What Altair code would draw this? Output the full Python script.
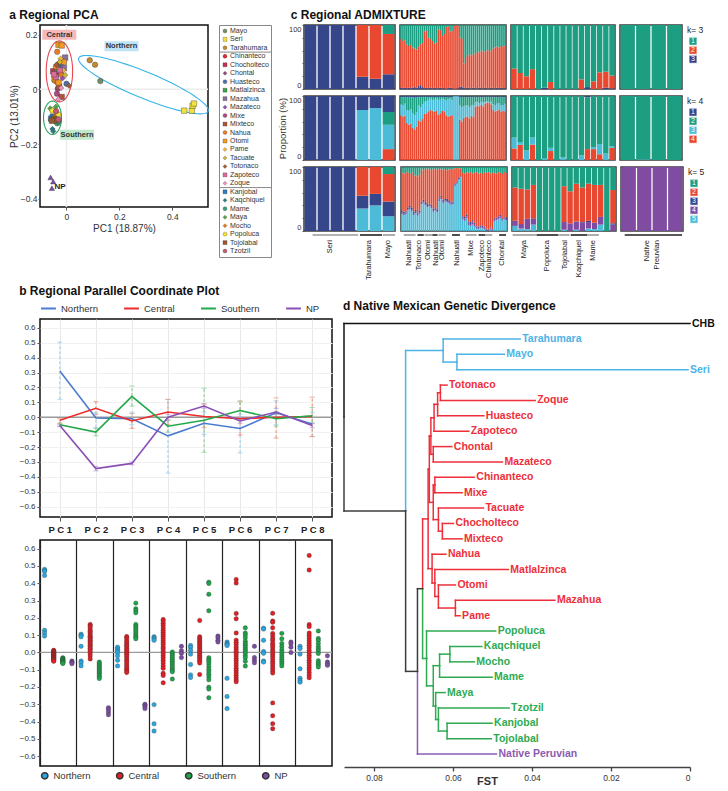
import math
import altair as alt
import pandas as pd

FONT = "Liberation Sans"

# ====================== Panel a : Regional PCA ======================
pop_names = ["Mayo", "Seri", "Tarahumara",
             "Chinanteco", "Chocholteco", "Chontal", "Huasteco", "Matlalzinca", "Mazahua", "Mazateco",
             "Mixe", "Mixteco", "Nahua", "Otomi", "Pame", "Tacuate", "Totonaco", "Zapoteco", "Zoque",
             "Kanjobal", "Kaqchiquel", "Mame", "Maya", "Mocho", "Popoluca", "Tojolabal", "Tzotzil",
             "Native Peruvian"]
pop_colors = ["#6f8f6a", "#f3e33c", "#c48a2c",
              "#e0262b", "#c2304d", "#8c4a78", "#4f6fa8", "#3fa34d", "#8a70a0", "#9a4fb2",
              "#b04884", "#b4523a", "#ee7d22", "#f39a1f", "#f6b92f", "#d2b634", "#a55a2f", "#e0699b", "#f092c0",
              "#2f7fb9", "#2a8084", "#3a9e76", "#52a844", "#e8781f", "#f6e52f", "#9a5a2b", "#c45a6c",
              "#7b4ca8"]
pop_shapes = ["circle", "square", "circle",
              "circle", "square", "diamond", "circle", "square", "square", "diamond",
              "circle", "square", "circle", "square", "diamond", "diamond", "diamond", "square", "diamond",
              "square", "diamond", "circle", "diamond", "diamond", "circle", "square", "circle",
              "triangle-up"]
pc1_vals = {
    "Mayo": [0.128], "Seri": [0.445, 0.474, 0.477, 0.482], "Tarahumara": [0.088, 0.108],
    "Chinanteco": [-0.045, -0.038], "Chocholteco": [-0.050, -0.042], "Chontal": [-0.030],
    "Huasteco": [0.000, -0.020], "Matlalzinca": [-0.035], "Mazahua": [-0.010, -0.005],
    "Mazateco": [-0.015, -0.025], "Mixe": [-0.036, -0.033, -0.040], "Mixteco": [-0.018, -0.028],
    "Nahua": [-0.035, -0.045, -0.040, -0.020], "Otomi": [-0.030, -0.018, -0.010, -0.045, -0.030],
    "Pame": [-0.012, -0.022], "Tacuate": [-0.025, -0.005], "Totonaco": [0.010, -0.038],
    "Zapoteco": [-0.040, -0.025, -0.047], "Zoque": [-0.030, -0.020],
    "Kanjobal": [-0.058, -0.052], "Kaqchiquel": [-0.053, -0.050], "Mame": [-0.035, -0.030],
    "Maya": [-0.061, -0.040, -0.058], "Mocho": [-0.043], "Popoluca": [-0.053, -0.031],
    "Tojolabal": [-0.047, -0.040, -0.055], "Tzotzil": [-0.039, -0.030],
    "Native Peruvian": [-0.060, -0.050, -0.055],
}
pc2_vals = {
    "Mayo": [0.030], "Seri": [-0.078, -0.078, -0.060, -0.052], "Tarahumara": [0.106, 0.090],
    "Chinanteco": [0.060, 0.052], "Chocholteco": [0.066, 0.046], "Chontal": [0.095],
    "Huasteco": [0.020, 0.086], "Matlalzinca": [0.076], "Mazahua": [0.078, 0.116],
    "Mazateco": [0.040, 0.062], "Mixe": [-0.016, 0.002, 0.030], "Mixteco": [-0.028, 0.010],
    "Nahua": [0.137, 0.032, 0.082, 0.055], "Otomi": [0.163, 0.160, 0.100, 0.040, 0.025],
    "Pame": [0.070, 0.112], "Tacuate": [0.100, 0.052], "Totonaco": [0.013, 0.090],
    "Zapoteco": [0.045, 0.070, 0.055], "Zoque": [-0.036, 0.005],
    "Kanjobal": [-0.107, -0.100], "Kaqchiquel": [-0.145, -0.153], "Mame": [-0.124, -0.118],
    "Maya": [-0.070, -0.064, -0.112], "Mocho": [-0.098], "Popoluca": [-0.078, -0.092],
    "Tojolabal": [-0.107, -0.113, -0.115], "Tzotzil": [-0.080, -0.110],
    "Native Peruvian": [-0.322, -0.337, -0.361],
}
ell_names = ["Central", "Southern", "Northern"]
ell_cx = [-0.0266, -0.0527, 0.291]
ell_cy = [0.0655, -0.104, 0.017]
ell_ux = [0.050, 0.034, 0.2447]
ell_uy = [0.0, 0.0, -0.097]
ell_vx = [0.0, 0.0, 0.0181]
ell_vy = [0.1115, 0.061, 0.0445]
ell_colors = ["#e8464e", "#2ca35a", "#35b5e8"]
tag_text = ["Central", "Northern", "Southern"]
tag_x = [-0.027, 0.208, 0.040]
tag_y = [0.199, 0.157, -0.166]
tag_fill = ["#f6b8bb", "#bfe4f6", "#bfe8cd"]

# ====================== Panel b : parallel coordinates ======================
pcs = ["PC1", "PC2", "PC3", "PC4", "PC5", "PC6", "PC7", "PC8"]
groups = ["Northern", "Central", "Southern", "NP"]
pcp_mean = {
    "Northern": [0.31, -0.005, -0.01, -0.125, -0.04, -0.075, 0.03, -0.045],
    "Central": [-0.02, 0.06, -0.025, 0.035, 0.005, -0.01, 0.0, 0.005],
    "Southern": [-0.05, -0.10, 0.14, -0.06, -0.02, 0.045, -0.01, 0.01],
    "NP": [-0.055, -0.345, -0.31, 0.0, 0.075, -0.025, 0.035, -0.055],
}
pcp_lo = {
    "Northern": [0.12, -0.07, -0.05, -0.375, -0.115, -0.24, -0.05, -0.13],
    "Central": [-0.04, 0.02, -0.075, -0.05, -0.07, -0.12, -0.14, -0.13],
    "Southern": [-0.06, -0.125, 0.075, -0.10, -0.235, -0.02, -0.06, -0.04],
    "NP": [-0.062, -0.36, -0.32, -0.02, 0.06, -0.04, 0.02, -0.07],
}
pcp_hi = {
    "Northern": [0.505, 0.03, 0.035, 0.12, 0.035, 0.02, 0.11, 0.03],
    "Central": [-0.01, 0.105, 0.025, 0.12, 0.09, 0.11, 0.13, 0.135],
    "Southern": [-0.04, -0.075, 0.21, -0.02, 0.195, 0.105, 0.04, 0.065],
    "NP": [-0.05, -0.33, -0.30, 0.02, 0.09, 0.0, 0.06, -0.04],
}
line_colors = ["#4a7bd0", "#ee2a2a", "#22a84a", "#8a4fb5"]
err_colors = ["#8fd0f0", "#f28a70", "#7cc98e", "#b08fd0"]
strip_colors = ["#2aa7e0", "#e31e24", "#1ea34a", "#7b4ea0"]
pcp_yticks = [-0.6, -0.5, -0.4, -0.3, -0.2, -0.1, 0.0, 0.1, 0.2, 0.3, 0.4, 0.5, 0.6]

strip_vals = {
    "Northern": [
        [0.48, 0.475, 0.468, 0.445, 0.128, 0.112, 0.095],
        [0.105, 0.098, 0.09, 0.035, -0.05, -0.06, -0.078],
        [0.03, 0.02, 0.01, 0.0, -0.02, -0.045, -0.078],
        [0.09, 0.085, 0.078, 0.07, -0.302, -0.413, -0.455],
        [0.04, 0.03, 0.012, -0.01, -0.07, -0.13, -0.145],
        [0.06, 0.052, 0.045, 0.04, -0.15, -0.255, -0.325],
        [0.14, 0.135, 0.07, 0.005, -0.005, -0.05, -0.056],
        [0.035, 0.022, -0.01, -0.095, -0.15, -0.163, -0.172],
    ],
    "Central": [
        [0.012, 0.009, 0.005, 0.002, -0.002, -0.005, -0.008, -0.011, -0.013, -0.016, -0.019, -0.021,
         -0.024, -0.027, -0.029, -0.032, -0.035, -0.037, -0.041, -0.044, -0.048, -0.051],
        [0.162, 0.155, 0.146, 0.131, 0.122, 0.114, 0.103, 0.094, 0.088, 0.079, 0.071, 0.066, 0.058,
         0.049, 0.041, 0.033, 0.024, 0.016, 0.006, -0.008, -0.021, -0.038],
        [0.092, 0.085, 0.072, 0.061, 0.052, 0.041, 0.033, 0.022, 0.014, 0.005, -0.006, -0.014, -0.023,
         -0.035, -0.046, -0.055, -0.067, -0.078, -0.089, -0.098, -0.108, -0.116],
        [0.19, 0.182, 0.168, 0.155, 0.141, 0.128, 0.116, 0.103, 0.094, 0.081, 0.069, 0.057, 0.045,
         0.031, 0.022, 0.008, -0.004, -0.018, -0.031, -0.046, -0.062, -0.078, -0.092, -0.121, -0.133, -0.176],
        [0.185, 0.09, 0.082, 0.071, 0.063, 0.054, 0.046, 0.037, 0.028, 0.019, 0.011, 0.002, -0.007,
         -0.016, -0.025, -0.033, -0.042, -0.051, -0.061, -0.128],
        [0.422, 0.401, 0.225, 0.195, 0.112, 0.071, 0.058, 0.046, 0.031, 0.019, 0.006, -0.008, -0.021,
         -0.035, -0.047, -0.062, -0.076, -0.091, -0.104, -0.118, -0.132, -0.147, -0.159, -0.17],
        [0.226, 0.181, 0.174, 0.142, 0.11, 0.096, 0.081, 0.069, 0.053, 0.041, 0.028, 0.014, 0.003,
         -0.011, -0.024, -0.038, -0.052, -0.064, -0.079, -0.093, -0.107, -0.119, -0.292, -0.366, -0.412, -0.441],
        [0.561, 0.476, 0.161, 0.149, 0.112, 0.097, 0.083, 0.068, 0.054, 0.041, 0.027, 0.012, -0.002,
         -0.016, -0.03, -0.045, -0.058, -0.073, -0.087, -0.101, -0.116, -0.131, -0.146],
    ],
    "Southern": [
        [-0.031, -0.035, -0.038, -0.041, -0.044, -0.047, -0.05, -0.052, -0.055, -0.058, -0.061, -0.064],
        [-0.056, -0.065, -0.073, -0.081, -0.09, -0.098, -0.107, -0.115, -0.124, -0.133, -0.142, -0.151],
        [0.285, 0.252, 0.241, 0.229, 0.162, 0.151, 0.14, 0.129, 0.118, 0.106, 0.096, 0.087, 0.079],
        [0.002, -0.008, -0.018, -0.029, -0.04, -0.051, -0.062, -0.072, -0.083, -0.094, -0.104, -0.112, -0.154],
        [0.406, 0.399, 0.336, 0.241, -0.031, -0.042, -0.052, -0.066, -0.081, -0.098, -0.112, -0.126,
         -0.141, -0.158, -0.201, -0.212, -0.262],
        [0.142, 0.112, 0.1, 0.084, 0.065, 0.052, 0.041, 0.029, 0.018, 0.008, -0.004, -0.018, -0.031, -0.051, -0.079],
        [0.11, 0.079, 0.052, 0.034, 0.016, 0.001, -0.013, -0.027, -0.039, -0.052, -0.064, -0.078],
        [0.124, 0.081, 0.069, 0.052, 0.034, 0.021, 0.009, -0.006, -0.048, -0.061, -0.072, -0.084],
    ],
    "NP": [
        [-0.05, -0.055, -0.06, -0.065],
        [-0.32, -0.33, -0.345, -0.36],
        [-0.3, -0.305, -0.315, -0.325],
        [0.035, 0.01, -0.005, -0.03],
        [0.095, 0.085, 0.07, 0.06],
        [0.035, -0.03, -0.045, -0.06],
        [0.06, 0.05, 0.03, 0.0],
        [-0.02, -0.055, -0.065, -0.075],
    ],
}

# ====================== Panel c : ADMIXTURE ======================
regions = ["Northern", "Central", "Southern", "NP"]
region_n = {"Northern": 7, "Central": 54, "Southern": 17, "NP": 4}
region_w = {"Northern": 91, "Central": 106, "Southern": 104, "NP": 62}
region_gap = {"Northern": 0.05, "Central": 0.08, "Southern": 0.06, "NP": 0.04}
kcols = {
    3: {1: "#1b9e82", 2: "#e8482f", 3: "#36468a"},
    4: {1: "#36468a", 2: "#1b9e82", 3: "#4bbbd8", 4: "#e8482f"},
    5: {1: "#1b9e82", 2: "#e8482f", 3: "#36468a", 4: "#7f4ca2", 5: "#4bbbd8"},
}
# each entry: (given components {comp: percents}, component that takes the remainder)
adm_northern = {
    3: ({3: [100, 100, 100, 100, 19, 16, 23], 2: [0, 0, 0, 0, 81, 84, 63]}, 1),
    4: ({4: [0, 0, 0, 0, 0, 0, 17], 3: [0, 0, 0, 0, 78, 81, 38], 2: [0, 0, 0, 0, 0, 0, 20]}, 1),
    5: ({5: [0, 0, 0, 0, 35, 40, 23], 3: [100, 100, 100, 100, 20, 18, 23], 2: [0, 0, 0, 0, 45, 42, 43]}, 1),
}
c3_navy = [2, 1, 2, 1, 2, 1, 2, 3, 2, 5, 6, 3, 1, 2, 1, 2, 1, 2, 1, 1, 2, 1, 1, 0, 1, 2, 1, 0, 0, 1,
           3, 4, 2, 1, 2, 1, 1, 2, 1, 1, 2, 1, 1, 2, 1, 1, 2, 1, 1, 2, 1, 2, 1, 1]
c3_green = [22, 25, 24, 30, 33, 31, 35, 37, 38, 34, 30, 28, 10, 9, 20, 22, 25, 29, 27, 7, 8, 17, 14, 3, 2,
            10, 9, 1, 0, 1, 20, 22, 60, 50, 47, 46, 48, 45, 44, 42, 43, 40, 41, 42, 40, 39, 41, 37, 35, 34,
            35, 33, 34, 32]
c4_red = [70, 68, 69, 58, 55, 57, 50, 48, 52, 62, 60, 64, 72, 73, 76, 78, 77, 75, 77, 71, 73, 77, 76, 70,
          68, 69, 70, 0, 0, 0, 63, 60, 66, 68, 67, 65, 69, 67, 83, 85, 84, 86, 83, 88, 90, 89, 87, 78, 76,
          77, 79, 75, 77, 76]
c4_green = [12, 13, 11, 20, 22, 19, 25, 27, 23, 14, 16, 12, 8, 7, 4, 3, 5, 4, 3, 5, 4, 3, 4, 5, 4, 3, 4,
            0, 0, 0, 14, 16, 15, 13, 14, 16, 12, 14, 9, 8, 10, 7, 9, 8, 7, 9, 8, 12, 13, 11, 10, 14, 12, 11]
c4_navy = [1, 2, 1, 2, 1, 2, 2, 3, 2, 1, 2, 1, 1, 1, 2, 1, 1, 2, 1, 1, 2, 1, 1, 2, 1, 1, 2, 0, 0, 0,
           1, 1, 1, 2, 1, 1, 2, 1, 1, 1, 1, 2, 1, 1, 1, 1, 1, 1, 2, 1, 1, 1, 2, 1]
c5_cyan = [27, 25, 26, 32, 34, 31, 25, 28, 24, 27, 42, 44, 40, 37, 39, 36, 30, 32, 29, 47, 50, 44, 46, 45,
           43, 41, 42, 70, 74, 80, 84, 18, 16, 20, 9, 8, 10, 7, 4, 3, 5, 4, 3, 1, 0, 2, 1, 15, 17, 18, 20,
           16, 18, 17]
c5_purple = [3, 2, 3, 2, 3, 2, 3, 2, 3, 2, 2, 3, 2, 2, 2, 3, 2, 3, 2, 2, 2, 3, 2, 2, 2, 3, 2, 1, 1, 1, 1,
             3, 4, 3, 4, 3, 5, 4, 3, 2, 3, 2, 3, 2, 1, 2, 1, 3, 2, 4, 3, 2, 3, 2]
c5_navy = [2, 3, 2, 3, 2, 3, 2, 3, 2, 3, 2, 2, 3, 3, 2, 2, 3, 2, 3, 2, 3, 2, 2, 3, 3, 2, 2, 2, 1, 2, 1,
           2, 2, 3, 2, 3, 2, 2, 1, 2, 1, 2, 1, 1, 1, 1, 1, 2, 2, 1, 2, 2, 1, 2]
c5_green = [9, 10, 8, 9, 11, 8, 14, 13, 15, 12, 4, 5, 3, 4, 3, 5, 4, 3, 4, 3, 4, 4, 3, 5, 4, 3, 4, 2, 1,
            2, 2, 9, 10, 8, 9, 8, 10, 9, 8, 10, 9, 11, 8, 9, 8, 10, 9, 9, 10, 8, 9, 11, 8, 9]
adm_central = {
    3: ({3: c3_navy, 1: c3_green}, 2),
    4: ({4: c4_red, 2: c4_green, 1: c4_navy}, 3),
    5: ({5: c5_cyan, 4: c5_purple, 3: c5_navy, 1: c5_green}, 2),
}
adm_southern = {
    3: ({2: [32, 25, 20, 31, 0, 0, 11, 0, 0, 0, 0, 15, 0, 12, 26, 25, 20],
         3: [0, 0, 0, 0, 0, 2, 0, 0, 0, 0, 0, 0, 3, 0, 0, 2, 1]}, 1),
    4: ({4: [18, 24, 0, 24, 0, 0, 14, 0, 0, 0, 0, 0, 17, 17, 9, 0, 19],
         3: [17, 4, 15, 11, 0, 2, 5, 0, 4, 0, 0, 7, 0, 3, 16, 10, 2],
         1: [0, 0, 0, 0, 0, 0, 0, 0, 0, 0, 0, 0, 2, 0, 0, 0, 0]}, 2),
    5: ({5: [8, 4, 3, 10, 0, 0, 0, 0, 2, 0, 2, 0, 4, 3, 10, 0, 0],
         4: [8, 7, 16, 10, 0, 0, 0, 0, 12, 12, 13, 13, 10, 10, 12, 0, 10],
         3: [0, 0, 0, 0, 0, 0, 0, 0, 0, 0, 0, 1, 2, 0, 0, 0, 2],
         2: [52, 55, 46, 52, 0, 0, 0, 0, 56, 50, 59, 54, 58, 59, 50, 0, 52]}, 1),
}
adm_np = {
    3: ({3: [0, 0, 0, 0]}, 1),
    4: ({3: [0, 1, 0, 0]}, 2),
    5: ({1: [0, 0, 0, 0]}, 4),
}
admix_data = {"Northern": adm_northern, "Central": adm_central, "Southern": adm_southern, "NP": adm_np}

pop_labels = {
    "Northern": (["Seri", "Tarahumara", "Mayo"], [2.0, 5.0, 6.45]),
    "Central": (["Nahuatl", "Totonaco", "Otomi", "Nahuatl", "Otomi", "Nahuatl", "Mixe", "Zapoteco",
                 "Chinanteco", "Chontal"],
                [4.2, 9.2, 14.0, 17.7, 20.8, 28.5, 35.5, 41.4, 45.0, 51.6]),
    "Southern": (["Maya", "Popoluca", "Tojolabal", "Kaqchiquel", "Mame"], [1.9, 5.7, 8.6, 10.9, 13.3]),
    "NP": (["Native", "Preuvian"], [1.7, 2.35]),
}
pop_underlines = {
    "Northern": ([0.66, 4.3, 6.06], [4.16, 6.0, 7.0]),
    "Central": ([1.4, 8.4, 12.0, 16.0, 19.0, 26.0, 33.0, 39.5, 43.0, 50.0],
                [7.4, 11.6, 16.0, 18.6, 23.0, 30.0, 38.6, 43.0, 46.5, 53.5]),
    "Southern": ([0.1, 4.0, 7.7, 9.6, 12.3], [3.9, 7.6, 9.4, 12.3, 14.2]),
    "NP": ([0.24], [3.94]),
}

# ====================== Panel d : dendrogram ======================
leaves = ["CHB", "Tarahumara", "Mayo", "Seri", "Totonaco", "Zoque", "Huasteco", "Zapoteco", "Chontal",
          "Mazateco", "Chinanteco", "Mixe", "Tacuate", "Chocholteco", "Mixteco", "Nahua", "Matlalzinca",
          "Otomi", "Mazahua", "Pame", "Popoluca", "Kaqchiquel", "Mocho", "Mame", "Maya", "Tzotzil",
          "Kanjobal", "Tojolabal", "Native Peruvian"]
leaf_fst = [0.0, 0.043, 0.047, 0.0005, 0.0615, 0.0392, 0.0522, 0.056, 0.0603, 0.0475, 0.0546, 0.0577,
            0.0523, 0.0599, 0.0577, 0.0618, 0.046, 0.0594, 0.0342, 0.0582, 0.0492, 0.0527, 0.0546, 0.0501,
            0.062, 0.0458, 0.0501, 0.0503, 0.049]
leaf_group = ["out", "N", "N", "N"] + ["C"] * 16 + ["S"] * 8 + ["P"]
tree_nodes = [  # (node, child1, child2, FST height, clade)
    ("NS", "Mayo", "Seri", 0.059, "N"), ("NT", "Tarahumara", "NS", 0.0625, "N"),
    ("T1", "Totonaco", "Zoque", 0.0632, "C"), ("T2", "T1", "Huasteco", 0.0639, "C"),
    ("T3", "T2", "Zapoteco", 0.0648, "C"), ("T4", "Chontal", "Mazateco", 0.065, "C"),
    ("T5", "T3", "T4", 0.0656, "C"), ("T6", "Chinanteco", "Mixe", 0.0646, "C"),
    ("T7", "Chocholteco", "Mixteco", 0.0627, "C"), ("T8", "Tacuate", "T7", 0.0637, "C"),
    ("T9", "T6", "T8", 0.065, "C"), ("T10", "T5", "T9", 0.066, "C"),
    ("B1", "Mazahua", "Pame", 0.0594, "C"), ("B2", "Otomi", "B1", 0.0637, "C"),
    ("B3", "Matlalzinca", "B2", 0.0646, "C"), ("B4", "Nahua", "B3", 0.0653, "C"),
    ("C0", "T10", "B4", 0.0663, "C"),
    ("S1", "Kaqchiquel", "Mocho", 0.0608, "S"), ("S2", "S1", "Mame", 0.0634, "S"),
    ("S3", "Kanjobal", "Tojolabal", 0.0615, "S"), ("S4", "Tzotzil", "S3", 0.0637, "S"),
    ("S5", "Maya", "S4", 0.0644, "S"), ("S6", "S2", "S5", 0.065, "S"),
    ("S0", "Popoluca", "S6", 0.0667, "S"),
    ("N3", "C0", "S0", 0.0677, "root"), ("N2", "N3", "Native Peruvian", 0.069, "root"),
    ("N1", "NT", "N2", 0.072, "root"), ("R", "CHB", "N1", 0.0876, "root"),
]
clade_colors = {"N": "#4cb3e6", "C": "#ee2f3a", "S": "#2eaa52", "P": "#8a5bb0", "root": "#3c3c3c",
                "out": "#111111"}

# ============================ build charts ============================
def view(stroke, width=1.5):
    return alt.ViewBackground(stroke=stroke, strokeWidth=width)


# ---- a: PCA ----
pca_recs = []
for name in pop_names:
    for a, b in zip(pc1_vals[name], pc2_vals[name]):
        pca_recs.append({"pop": name, "pc1": a, "pc2": b})
pca_df = pd.DataFrame(pca_recs)

px = alt.Scale(domain=[-0.1, 0.535], nice=False, zero=False)
py = alt.Scale(domain=[-0.43, 0.235], nice=False, zero=False)
pca_xax = alt.Axis(values=[0, 0.2, 0.4], title="PC1 (18.87%)", grid=False, domain=False, tickSize=3,
                   labelFontSize=8.5, titleFontSize=10, titleFontWeight="normal", format="~g", titlePadding=3)
pca_yax = alt.Axis(values=[-0.4, -0.2, 0, 0.2], title="PC2 (13.01%)", grid=False, domain=False, tickSize=2,
                   labelFontSize=8.5, titleFontSize=10, titleFontWeight="normal", format="~g", titlePadding=1,
                   labelPadding=1)
color_pop = alt.Color("pop:N", scale=alt.Scale(domain=pop_names, range=pop_colors), legend=None)
shape_pop = alt.Shape("pop:N", scale=alt.Scale(domain=pop_names, range=pop_shapes), legend=None)

zero_df = pd.DataFrame({"v": [0.0]})

ell_recs = []
for i, name in enumerate(ell_names):
    for j in range(73):
        t = 2 * math.pi * j / 72
        ell_recs.append({"ell": name, "j": j,
                         "x": ell_cx[i] + math.cos(t) * ell_ux[i] + math.sin(t) * ell_vx[i],
                         "y": ell_cy[i] + math.cos(t) * ell_uy[i] + math.sin(t) * ell_vy[i],
                         "c": ell_colors[i]})

pca_pts = alt.Chart(pca_df).mark_point(filled=True, size=30, opacity=1, stroke="#3a3a3a",
                                       strokeWidth=0.4).encode(
    x=alt.X("pc1:Q", scale=px, axis=pca_xax), y=alt.Y("pc2:Q", scale=py, axis=pca_yax),
    color=color_pop, shape=shape_pop)
pca_zx = alt.Chart(zero_df).mark_rule(color="#ececec", strokeWidth=1.5).encode(
    x=alt.X("v:Q", scale=px, axis=pca_xax))
pca_zy = alt.Chart(zero_df).mark_rule(color="#ececec", strokeWidth=1.5).encode(
    y=alt.Y("v:Q", scale=py, axis=pca_yax))
pca_ell = alt.Chart(pd.DataFrame(ell_recs)).mark_line(strokeWidth=1.1).encode(
    x=alt.X("x:Q", scale=px, axis=pca_xax), y=alt.Y("y:Q", scale=py, axis=pca_yax),
    detail="ell:N", order="j:Q", stroke=alt.Stroke("c:N", scale=None))
tag_df = pd.DataFrame({"t": tag_text, "x": tag_x, "y": tag_y, "f": tag_fill})
pca_tagbox = alt.Chart(tag_df).mark_point(shape="M-3.4,-1L3.4,-1L3.4,1L-3.4,1Z", size=100, filled=True,
                                          opacity=1, strokeWidth=0).encode(
    x=alt.X("x:Q", scale=px, axis=pca_xax), y=alt.Y("y:Q", scale=py, axis=pca_yax),
    fill=alt.Fill("f:N", scale=None))
pca_tagtxt = alt.Chart(tag_df).mark_text(fontSize=7.5, fontWeight="bold", color="#333").encode(
    x=alt.X("x:Q", scale=px, axis=pca_xax), y=alt.Y("y:Q", scale=py, axis=pca_yax), text="t:N")
np_df = pd.DataFrame({"t": ["NP"], "x": [-0.045], "y": [-0.358]})
pca_np = alt.Chart(np_df).mark_text(fontSize=8, fontWeight="bold", color="#222", align="left").encode(
    x=alt.X("x:Q", scale=px, axis=pca_xax), y=alt.Y("y:Q", scale=py, axis=pca_yax), text="t:N")

pca = alt.layer(pca_zx, pca_zy, pca_ell, pca_tagbox, pca_tagtxt, pca_pts, pca_np).properties(
    width=168, height=182, title="a   Regional PCA", view=view("#111111", 1.5))

# PCA legend box
leg_df = pd.DataFrame({"pop": pop_names[:27], "i": list(range(27))})
ly = alt.Scale(domain=[-0.7, 26.7], reverse=True, nice=False, zero=False)
leg_pts = alt.Chart(leg_df).mark_point(filled=True, size=16, opacity=1, stroke="#3a3a3a",
                                       strokeWidth=0.3).encode(
    x=alt.value(6), y=alt.Y("i:Q", scale=ly, axis=None), color=color_pop, shape=shape_pop)
leg_txt = alt.Chart(leg_df).mark_text(align="left", baseline="middle", fontSize=7, color="#333").encode(
    x=alt.value(11), y=alt.Y("i:Q", scale=ly, axis=None), text="pop:N")
sep_df = pd.DataFrame({"s": [2.5, 18.5]})
leg_sep = alt.Chart(sep_df).mark_rule(color="#888", strokeWidth=1).encode(
    y=alt.Y("s:Q", scale=ly, axis=None))
pca_legend = alt.layer(leg_sep, leg_pts, leg_txt).properties(width=52, height=232, view=view("#888888", 1))

# ---- c: ADMIXTURE ----
ROW_H = 64
adm_recs = []
for region in regions:
    for k in (3, 4, 5):
        given, rest = admix_data[region][k]
        for i in range(region_n[region]):
            vals = {c: lst[i] for c, lst in given.items()}
            vals[rest] = max(0, 100 - sum(vals.values()))
            cum = 0
            for c in sorted(vals, reverse=True):
                v = vals[c]
                if v <= 0:
                    continue
                adm_recs.append({"region": region, "k": k, "bar": i, "comp": c, "y0": cum, "y1": cum + v,
                                 "col": kcols[k][c]})
                cum += v
adm_df = pd.DataFrame(adm_recs)


def admix_cell(region, k, first, bottom):
    n = region_n[region]
    g = region_gap[region]
    d = adm_df[(adm_df.region == region) & (adm_df.k == k)].copy()
    d["xa"] = d["bar"] + g
    d["xb"] = d["bar"] + 1 - g
    xs = alt.Scale(domain=[0, n], nice=False, zero=False)
    ys = alt.Scale(domain=[0, 100], nice=False, zero=False)
    if first:
        yax = alt.Axis(values=[0, 20, 40, 60, 80, 100],
                       labelExpr="datum.value == 0 || datum.value == 100 ? datum.label : ''",
                       title="Proportion (%)", titleOpacity=1 if k == 4 else 0, titleFontSize=9.5,
                       titleFontWeight="normal", labelFontSize=7.5, tickSize=2, domain=False,
                       titlePadding=1, labelPadding=1, grid=False, labelFlush=True)
    else:
        yax = None
    bars = alt.Chart(d).mark_rect().encode(
        x=alt.X("xa:Q", scale=xs, axis=None), x2="xb:Q",
        y=alt.Y("y0:Q", scale=ys, axis=yax), y2="y1:Q",
        fill=alt.Fill("col:N", scale=None))
    layers = [bars]
    if bottom:
        starts, ends = pop_underlines[region]
        ul_df = pd.DataFrame({"s": starts, "e": ends,
                              "c": ["#999999" if (j % 2 == 0) != (region == "NP") else "#222222"
                                    for j in range(len(starts))]})
        layers.append(alt.Chart(ul_df).mark_rule(strokeWidth=1.6).encode(
            x=alt.X("s:Q", scale=xs, axis=None), x2="e:Q", y=alt.value(ROW_H + 4),
            stroke=alt.Stroke("c:N", scale=None)))
        names, pos = pop_labels[region]
        lab_df = pd.DataFrame({"t": names, "p": pos})
        layers.append(alt.Chart(lab_df).mark_text(angle=270, align="right", baseline="middle",
                                                  fontSize=7.5, color="#222").encode(
            x=alt.X("p:Q", scale=xs, axis=None), y=alt.value(ROW_H + 9), text="t:N"))
    return alt.layer(*layers).properties(width=region_w[region], height=ROW_H, view=view("#3a3a3a", 1.5))


def k_legend(k):
    ys = alt.Scale(domain=[-0.8, 6.3], reverse=True, nice=False, zero=False)
    d = pd.DataFrame({"i": list(range(1, k + 1)), "col": [kcols[k][c] for c in range(1, k + 1)],
                      "lab": [str(c) for c in range(1, k + 1)]})
    head = alt.Chart(pd.DataFrame({"i": [-0.2], "t": [f"k= {k}"]})).mark_text(
        align="left", baseline="middle", fontSize=8.5, color="#222").encode(
        x=alt.value(1), y=alt.Y("i:Q", scale=ys, axis=None), text="t:N")
    sq = alt.Chart(d).mark_square(size=60, opacity=1, stroke="white", strokeWidth=0.5).encode(
        x=alt.value(7), y=alt.Y("i:Q", scale=ys, axis=None), fill=alt.Fill("col:N", scale=None))
    num = alt.Chart(d).mark_text(fontSize=7, color="white", baseline="middle").encode(
        x=alt.value(7), y=alt.Y("i:Q", scale=ys, axis=None), text="lab:N")
    return alt.layer(head, sq, num).properties(width=18, height=ROW_H, view=view("transparent", 0))


adm_rows = []
for k in (3, 4, 5):
    cells = [admix_cell(r, k, r == "Northern", k == 5) for r in regions]
    cells.append(k_legend(k))
    adm_rows.append(alt.hconcat(*cells, spacing=3))
admix = alt.vconcat(*adm_rows, spacing=3).properties(
    title=alt.TitleParams("c   Regional ADMIXTURE", anchor="start", dx=14))

# ---- b: parallel coordinate plot ----
pcp_recs = []
for gi, g in enumerate(groups):
    for j, pc in enumerate(pcs):
        pcp_recs.append({"group": g, "pc": pc, "mean": pcp_mean[g][j], "lo": pcp_lo[g][j],
                         "hi": pcp_hi[g][j], "ecol": err_colors[gi]})
pcp_df = pd.DataFrame(pcp_recs)
pcp_x = alt.X("pc:N", sort=pcs, scale=alt.Scale(type="point", padding=0.55),
              axis=alt.Axis(labelExpr="replace(datum.label, 'PC', 'P C ')", labelFontWeight="bold",
                            labelFontSize=9.5, labelAngle=0, tickSize=4, domain=False, grid=True,
                            gridColor="#e8e8e8", title=None, labelPadding=3, labelColor="#222"))
pcp_ys = alt.Scale(domain=[-0.67, 0.66], nice=False, zero=False)
pcp_yax = alt.Axis(values=pcp_yticks, format=".1f", grid=True, gridColor="#f0f0f0", domain=False,
                   tickSize=3, labelFontSize=8, title=None)
pcp_zero = alt.Chart(zero_df).mark_rule(color="#9a9a9a", strokeWidth=1.3).encode(
    y=alt.Y("v:Q", scale=pcp_ys, axis=pcp_yax))
pcp_err = alt.Chart(pcp_df).mark_rule(strokeDash=[3, 2], strokeWidth=1).encode(
    x=pcp_x, y=alt.Y("lo:Q", scale=pcp_ys, axis=pcp_yax), y2="hi:Q", stroke=alt.Stroke("ecol:N", scale=None))
pcp_cap_lo = alt.Chart(pcp_df).mark_tick(size=5, thickness=1).encode(
    x=pcp_x, y=alt.Y("lo:Q", scale=pcp_ys, axis=pcp_yax), fill=alt.Fill("ecol:N", scale=None))
pcp_cap_hi = alt.Chart(pcp_df).mark_tick(size=5, thickness=1).encode(
    x=pcp_x, y=alt.Y("hi:Q", scale=pcp_ys, axis=pcp_yax), fill=alt.Fill("ecol:N", scale=None))
pcp_line = alt.Chart(pcp_df).mark_line(strokeWidth=1.6).encode(
    x=pcp_x, y=alt.Y("mean:Q", scale=pcp_ys, axis=pcp_yax),
    color=alt.Color("group:N", sort=groups, scale=alt.Scale(domain=groups, range=line_colors),
                    legend=alt.Legend(orient="top", direction="horizontal", title=None, symbolType="stroke",
                                      symbolStrokeWidth=2, symbolSize=220, labelFontSize=9.5,
                                      columnPadding=22, offset=6, padding=0, labelColor="#333")))
pcp_top = alt.layer(pcp_zero, pcp_err, pcp_cap_lo, pcp_cap_hi, pcp_line).properties(
    width=292, height=198, title="b   Regional Parallel Coordinate Plot", view=view("#111111", 1.5))

strip_recs = []
for g in groups:
    for j, pc in enumerate(pcs):
        for v in strip_vals[g][j]:
            strip_recs.append({"group": g, "pc": pc, "value": v})
strip_df = pd.DataFrame(strip_recs)
st_ys = alt.Scale(domain=[-0.657, 0.65], nice=False, zero=False)
st_yax = alt.Axis(values=pcp_yticks, format=".1f", grid=False, domain=False, tickSize=3,
                  labelFontSize=8, title=None)
st_x = alt.X("pc:N", sort=pcs, scale=alt.Scale(paddingInner=0, paddingOuter=0),
             axis=alt.Axis(bandPosition=0, grid=True, gridColor="#222222", gridWidth=1.2, labels=False,
                           ticks=False, domain=False, title=None))
st_zero = alt.Chart(zero_df).mark_rule(color="#9a9a9a", strokeWidth=1.2).encode(
    y=alt.Y("v:Q", scale=st_ys, axis=st_yax))
st_pts = alt.Chart(strip_df).mark_circle(size=20, opacity=1, stroke="#333333", strokeWidth=0.3).encode(
    x=st_x,
    xOffset=alt.XOffset("group:N", sort=groups, scale=alt.Scale(domain=groups, padding=0.5)),
    y=alt.Y("value:Q", scale=st_ys, axis=st_yax),
    color=alt.Color("group:N", sort=groups, scale=alt.Scale(domain=groups, range=strip_colors),
                    legend=alt.Legend(orient="bottom", direction="horizontal", title=None, symbolType="circle",
                                      symbolSize=40, labelFontSize=9.5, columnPadding=22, offset=5, padding=0,
                                      labelColor="#333")))
pcp_strip = alt.layer(st_zero, st_pts).properties(width=292, height=226, view=view("#111111", 1.5))

left_col = alt.vconcat(pcp_top, pcp_strip, spacing=4).resolve_scale(color="independent")

# ---- d: dendrogram ----
ypos = {n: float(i) for i, n in enumerate(leaves)}
xpos = {n: leaf_fst[i] for i, n in enumerate(leaves)}
clade = {n: leaf_group[i] for i, n in enumerate(leaves)}
seg_recs = []
for node, c1, c2, h, cl in tree_nodes:
    ypos[node] = (ypos[c1] + ypos[c2]) / 2
    xpos[node] = h
    clade[node] = cl
for node, c1, c2, h, cl in tree_nodes:
    for ch in (c1, c2):
        col = clade_colors[clade[ch]]
        seg_recs.append({"x": h, "x2": h, "y": ypos[node], "y2": ypos[ch], "c": col})
        seg_recs.append({"x": h, "x2": xpos[ch], "y": ypos[ch], "y2": ypos[ch], "c": col})
seg_df = pd.DataFrame(seg_recs)
lf_df = pd.DataFrame({"name": leaves, "fst": leaf_fst, "i": list(range(len(leaves))),
                      "c": [clade_colors[g] for g in leaf_group]})
dx_s = alt.Scale(domain=[0, 0.0876], reverse=True, nice=False, zero=False)
dy_s = alt.Scale(domain=[-0.3, 28.84], reverse=True, nice=False, zero=False)
d_xax = alt.Axis(values=[0.08, 0.06, 0.04, 0.02, 0],
                 labelExpr="datum.value == 0 ? '0' : format(datum.value, '.2f')",
                 title="FST", titleX=143, titleY=17, titleBaseline="alphabetic",
                 titleFontSize=11, titleFontWeight="bold", domainColor="#444", domainWidth=1.5,
                 tickColor="#444", tickWidth=1.3, tickSize=4, labelFontSize=8.5, grid=False, labelPadding=2)
d_segs = alt.Chart(seg_df).mark_rule(strokeWidth=1.5, strokeCap="square").encode(
    x=alt.X("x:Q", scale=dx_s, axis=d_xax), x2="x2:Q",
    y=alt.Y("y:Q", scale=dy_s, axis=None), y2="y2:Q",
    stroke=alt.Stroke("c:N", scale=None))
d_labels = alt.Chart(lf_df).mark_text(align="left", baseline="middle", dx=2, fontSize=10.5,
                                      fontWeight="bold").encode(
    x=alt.X("fst:Q", scale=dx_s, axis=d_xax), y=alt.Y("i:Q", scale=dy_s, axis=None), text="name:N",
    fill=alt.Fill("c:N", scale=None))
dendro = alt.layer(d_segs, d_labels).properties(
    width=346, height=448, view=view("transparent", 0),
    title=alt.TitleParams("d   Native Mexican Genetic Divergence", anchor="start", offset=6))

# ---- assemble ----
pca_block = alt.hconcat(pca, pca_legend, spacing=6).resolve_scale(color="independent", shape="independent")
top_row = alt.hconcat(pca_block, admix, spacing=4).resolve_scale(color="independent", shape="independent")
bottom_row = alt.hconcat(left_col, dendro, spacing=8).resolve_scale(color="independent")
chart = alt.concat(top_row, bottom_row, columns=1, align="none", spacing=3).resolve_scale(
    color="independent", shape="independent").properties(
    padding={"left": 0, "top": 0, "right": 0, "bottom": 0}).configure(font=FONT).configure_title(
    font=FONT, fontSize=12, fontWeight="bold", anchor="start", color="#111", offset=2).configure_axis(
    labelFont=FONT, titleFont=FONT, labelColor="#333", titleColor="#333", tickColor="#555").configure_legend(
    labelFont=FONT).configure_text(font=FONT)

chart.save("out.html", embed_options={"renderer": "svg", "actions": False})
